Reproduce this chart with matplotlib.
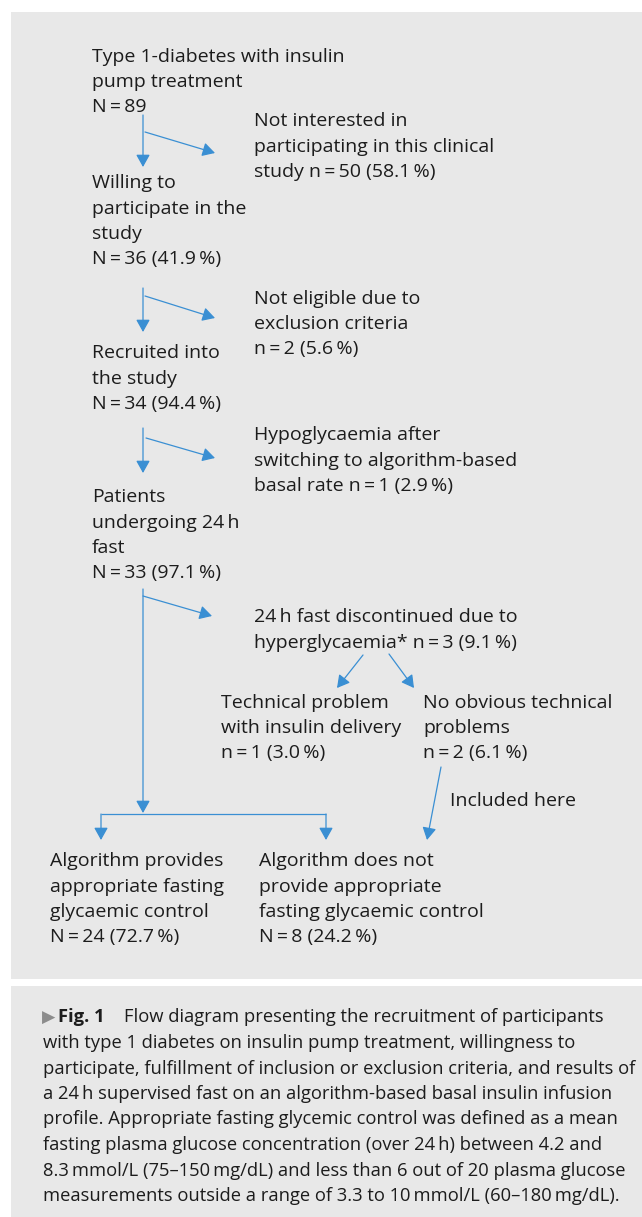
import matplotlib
matplotlib.use('Agg')
import matplotlib.pyplot as plt
from matplotlib.patches import Rectangle, FancyArrowPatch

# ---------------- data ----------------
TS = '\u2009'  # thin space

step_n = [89, 36, 34, 33]            # main flow counts
step_pct = [None, 41.9, 94.4, 97.1]  # main flow percentages
excl_n = [50, 2, 1, 3]               # drop-outs at each step
excl_pct = [58.1, 5.6, 2.9, 9.1]
sub_n = [1, 2]                       # split of discontinued fasts
sub_pct = [3.0, 6.1]
outcome_n = [24, 8]                  # final outcome
outcome_pct = [72.7, 24.2]


def cnt(sym, n, p=None):
    s = f"{sym}{TS}={TS}{n}"
    if p is not None:
        s += f" ({p:.1f}{TS}%)"
    return s


caption_lines = [
    "with type 1 diabetes on insulin pump treatment, willingness to",
    "participate, fulfillment of inclusion or exclusion criteria, and results of",
    f"a 24{TS}h supervised fast on an algorithm-based basal insulin infusion",
    "profile. Appropriate fasting glycemic control was defined as a mean",
    f"fasting plasma glucose concentration (over 24{TS}h) between 4.2 and",
    f"8.3{TS}mmol/L (75–150{TS}mg/dL) and less than 6 out of 20 plasma glucose",
    f"measurements outside a range of 3.3 to 10{TS}mmol/L (60–180{TS}mg/dL).",
]

# ---------------- style ----------------
W, H = 642, 1217
FONT = ['Open Sans', 'DejaVu Sans']
TXT = '#1c1c1c'
BLUE = '#3a8fd3'
BG = '#e8e8e8'
FS = 14
CFS = 13.2     # caption font size
LS = 25.3      # line spacing in px
BASE = 6.5     # centre -> baseline offset in px

fig = plt.figure(figsize=(W / 100, H / 100), dpi=100)
fig.patch.set_facecolor('white')
ax = fig.add_axes([0, 0, 1, 1])
ax.set_xlim(0, W)
ax.set_ylim(H, 0)
ax.axis('off')

ax.add_patch(Rectangle((11, 12), W - 11, 967, facecolor=BG, edgecolor='none'))
ax.add_patch(Rectangle((11, 986), W - 11, H - 986, facecolor=BG, edgecolor='none'))


def block(x, y0, lines, spacing=LS):
    for i, s in enumerate(lines):
        ax.text(x, y0 + i * spacing + BASE, s, fontsize=FS, family=FONT,
                color=TXT, ha='left', va='baseline')


def arrow(p0, p1):
    a = FancyArrowPatch(p0, p1, arrowstyle='-|>,head_length=0.75,head_width=0.42',
                        mutation_scale=10, lw=0.9, color=BLUE,
                        shrinkA=0, shrinkB=0)
    ax.add_patch(a)


# ---------------- text blocks ----------------
block(92, 56, ["Type 1-diabetes with insulin", "pump treatment", cnt('N', step_n[0])], 24.5)
block(254, 120, ["Not interested in", "participating in this clinical",
                 "study " + cnt('n', excl_n[0], excl_pct[0])])
block(92, 182, ["Willing to", "participate in the", "study", cnt('N', step_n[1], step_pct[1])])
block(254, 297, ["Not eligible due to", "exclusion criteria", cnt('n', excl_n[1], excl_pct[1])])
block(92, 352, ["Recruited into", "the study", cnt('N', step_n[2], step_pct[2])])
block(254, 434, ["Hypoglycaemia after", "switching to algorithm-based",
                 "basal rate " + cnt('n', excl_n[2], excl_pct[2])])
block(92, 496, ["Patients", f"undergoing 24{TS}h", "fast", cnt('N', step_n[3], step_pct[3])])
block(254, 616, [f"24{TS}h fast discontinued due to",
                 "hyperglycaemia* " + cnt('n', excl_n[3], excl_pct[3])])
block(221, 701, ["Technical problem", "with insulin delivery", cnt('n', sub_n[0], sub_pct[0])])
block(423, 701, ["No obvious technical", "problems", cnt('n', sub_n[1], sub_pct[1])])
block(450, 799, ["Included here"])
block(50, 860, ["Algorithm provides", "appropriate fasting", "glycaemic control",
                cnt('N', outcome_n[0], outcome_pct[0])])
block(259, 860, ["Algorithm does not", "provide appropriate", "fasting glycaemic control",
                 cnt('N', outcome_n[1], outcome_pct[1])])

# ---------------- arrows ----------------
arrow((143, 115), (143, 167)); arrow((145, 132), (215, 153))
arrow((143, 288), (143, 332)); arrow((145, 296), (215, 318))
arrow((143, 428), (143, 473)); arrow((146, 438), (215, 458))
arrow((143, 589), (143, 813)); arrow((143, 596), (212, 616))
arrow((363, 655), (337, 688)); arrow((389, 654), (414, 688))
ax.plot([101, 326], [814, 814], color=BLUE, lw=0.9, solid_capstyle='butt')
arrow((101, 814), (101, 840)); arrow((326, 814), (326, 840))
arrow((441, 767), (427, 840))

# ---------------- caption ----------------
cy = 1016
ax.text(42, cy + BASE, '\u25B6', fontsize=12.5, family=['DejaVu Sans'], color='#8c8c8c',
        ha='left', va='baseline')
ax.text(58, cy + BASE, 'Fig. 1', fontsize=CFS, family=FONT, fontweight='bold',
        color=TXT, ha='left', va='baseline')
ax.text(124, cy + BASE, 'Flow diagram presenting the recruitment of participants',
        fontsize=CFS, family=FONT, color=TXT, ha='left', va='baseline')
for i, s in enumerate(caption_lines):
    ax.text(43, cy + (i + 1) * 25.5 + BASE, s, fontsize=CFS, family=FONT,
            color=TXT, ha='left', va='baseline')

fig.savefig('out.png', dpi=100, facecolor='white')
